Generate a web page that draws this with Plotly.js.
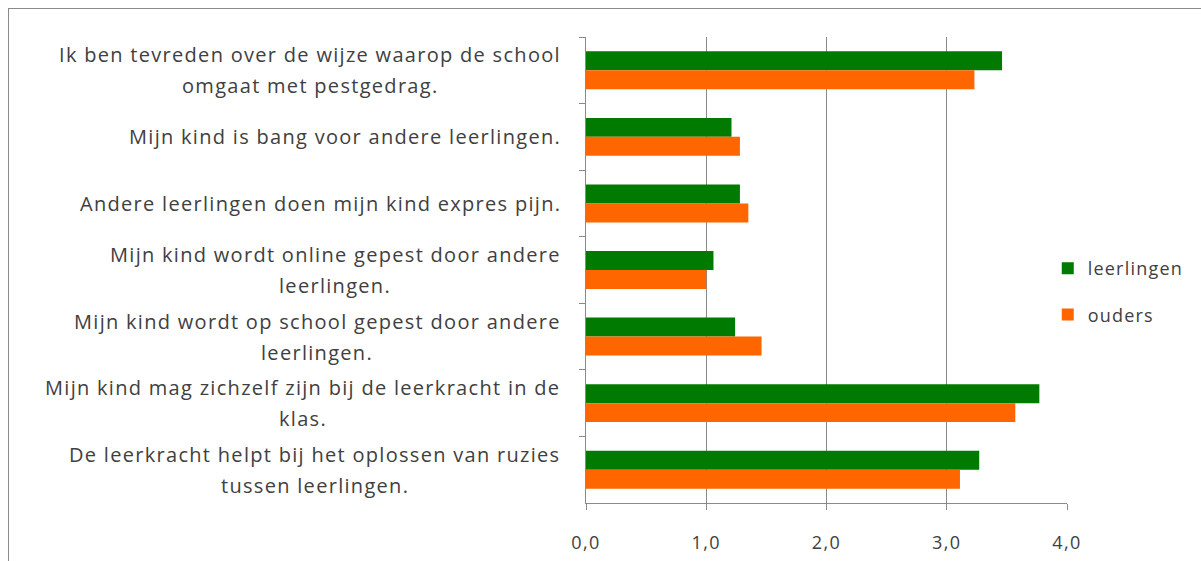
<!DOCTYPE html>
<html>
<head>
<meta charset="utf-8">
<script src="https://cdn.plot.ly/plotly-3.0.1.min.js"></script>
<style>
  html, body { margin: 0; padding: 0; background: #fff; }
  #wrap { position: relative; width: 1201px; height: 561px; overflow: hidden; }
  #chart { position: absolute; left: 0; top: 0; width: 1201px; height: 561px; }
  #frame { position: absolute; left: 8px; top: 8px; width: 1300px; height: 700px;
           border: 1px solid #8a8a8a; pointer-events: none; }
  .annotation-text { letter-spacing: 1.3px; }
  .legendtext { letter-spacing: 1.2px; }
  .xtick text { letter-spacing: 1.5px; }
</style>
</head>
<body>
<div id="wrap">
  <div id="chart"></div>
  <div id="frame"></div>
</div>
<script>
const categories = [
  "Ik ben tevreden over de wijze waarop de school<br>omgaat met pestgedrag.",
  "Mijn kind is bang voor andere leerlingen.",
  "Andere leerlingen doen mijn kind expres pijn.",
  "Mijn kind wordt online gepest door andere<br>leerlingen.",
  "Mijn kind wordt op school gepest door andere<br>leerlingen.",
  "Mijn kind mag zichzelf zijn bij de leerkracht in de<br>klas.",
  "De leerkracht helpt bij het oplossen van ruzies<br>tussen leerlingen."
];
const seriesNames = ["leerlingen", "ouders"];
const leerlingen = [3.46, 1.21, 1.28, 1.06, 1.24, 3.77, 3.27];
const ouders = [3.23, 1.28, 1.35, 1.00, 1.46, 3.57, 3.11];
const xTicks = [0, 1, 2, 3, 4];

const W = 1201, H = 561;
const M = {l: 586, r: 134, t: 37, b: 58};
const plotW = W - M.l - M.r;
const labelFont = 'Open Sans';
const labelSize = 20;
const labelSpacing = 1.3;
const labelColor = '#404040';
const lineGap = 31;
const labelRight = 560;

const canvas = document.createElement('canvas');
const ctx = canvas.getContext('2d');
ctx.font = labelSize + 'px "' + labelFont + '"';
const measure = s => ctx.measureText(s).width + (s.length - 1) * labelSpacing;

const annotations = [];
categories.forEach((cat, i) => {
  const lines = cat.split('<br>');
  const blockW = Math.max(...lines.map(measure));
  const centerPx = labelRight - blockW / 2;
  lines.forEach((ln, k) => {
    annotations.push({
      text: ln, showarrow: false,
      xref: 'paper', x: (centerPx - M.l) / plotW, xanchor: 'center',
      yref: 'y', y: i, yanchor: 'middle',
      yshift: -(k - (lines.length - 1) / 2) * lineGap,
      font: {family: labelFont, size: labelSize, color: labelColor}
    });
  });
});

const traces = [
  {type: 'bar', orientation: 'h', name: seriesNames[0], y: categories, x: leerlingen,
   marker: {color: '#007a00'}, legendgroup: 'a'},
  {type: 'bar', orientation: 'h', name: seriesNames[1], y: categories, x: ouders,
   marker: {color: '#ff6600'}, legendgroup: 'b'}
];

const layout = {
  width: W, height: H,
  margin: M,
  paper_bgcolor: 'rgba(0,0,0,0)', plot_bgcolor: 'rgba(0,0,0,0)',
  barmode: 'group', bargap: 0.43, bargroupgap: 0,
  separators: ',.',
  font: {family: labelFont, color: labelColor},
  xaxis: {
    range: [0, 4], tickvals: xTicks, tickformat: '.1f',
    showgrid: true, gridcolor: '#8a8a8a', gridwidth: 1,
    showline: true, linecolor: '#8a8a8a', linewidth: 1,
    ticks: 'outside', ticklen: 6, tickcolor: '#8a8a8a',
    ticklabelstandoff: 17,
    tickfont: {family: labelFont, size: 18, color: labelColor},
    zeroline: false, fixedrange: true
  },
  yaxis: {
    type: 'category', autorange: 'reversed',
    showticklabels: false, showgrid: false,
    showline: true, linecolor: '#8a8a8a', linewidth: 1,
    ticks: 'outside', ticklen: 6, tickcolor: '#8a8a8a', tickson: 'boundaries',
    fixedrange: true
  },
  legend: {
    x: 0.96, xanchor: 'left', y: 0.454, yanchor: 'middle',
    traceorder: 'grouped', tracegroupgap: 20, itemwidth: 30,
    bgcolor: 'rgba(0,0,0,0)',
    font: {family: labelFont, size: 18, color: labelColor},
    itemclick: false, itemdoubleclick: false
  },
  annotations: annotations,
  showlegend: true
};

Plotly.newPlot('chart', traces, layout, {displayModeBar: false, staticPlot: true});
</script>
</body>
</html>
